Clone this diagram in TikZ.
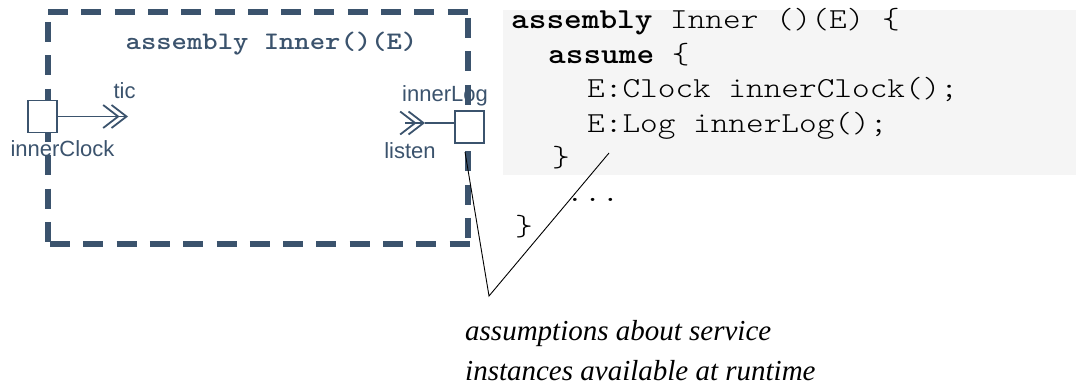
\documentclass[tikz,border=0pt]{standalone}
\usepackage{fontspec}
\setmainfont{Liberation Serif}
\setsansfont{Liberation Sans}
\newfontfamily\codefont{lmmonolt10-regular.otf}[BoldFont=lmmonolt10-bold.otf, FakeStretch=1.16]
\usetikzlibrary{arrows.meta}
\definecolor{slate}{HTML}{3B536D}
\definecolor{codebg}{HTML}{F5F5F5}
\tikzset{
  dashside/.style={draw=slate, line width=6pt, dash pattern=on 20pt off 13.3pt},
  port/.style={draw=slate, fill=white, line width=1.2pt, minimum width=29pt, minimum height=32pt, inner sep=0pt},
  lbl/.style={text=slate, inner sep=0pt, anchor=base, font=\sffamily\fontsize{22}{24}\selectfont},
  codeline/.style={inner sep=0pt, anchor=base west, font=\codefont\fontsize{29}{34}\selectfont},
  note/.style={inner sep=0pt, anchor=base west, font=\itshape\fontsize{29}{40}\selectfont},
  callout/.style={draw=black, line width=0.9pt},
  wire/.style={draw=slate, line width=1.2pt},
  chev/.style={draw=slate, line width=1.2pt, -{Straight Barb[length=15pt,width=23pt,line width=1.8pt,sep=-9pt]Straight Barb[length=15pt,width=23pt,line width=1.8pt]}}
}
\begin{document}
\begin{tikzpicture}[x=1pt,y=-1pt]
\useasboundingbox (0,0) rectangle (1076,385);
% code background
\fill[codebg] (503,10) rectangle (1076,175);
% code text
\node[codeline] (c1) at (511,29) {\textbf{assembly} Inner ()(E) \{};
\node[codeline] (c2) at (548,63.4) {\textbf{assume} \{};
\node[codeline] (c3) at (587,97.8) {E:Clock innerClock();};
\node[codeline] (c4) at (587,132.2) {E:Log innerLog();};
\node[codeline] (c5) at (552,166.6) {\}};
\node[codeline] (c6) at (566,201) {...};
\node[codeline] (c7) at (515,235.4) {\}};
% dashed assembly frame
\draw[dashside] (48,12) -- (472,12);
\draw[dashside] (48,22) -- (48,244);
\draw[dashside] (468,18) -- (468,244);
\draw[dashside] (50,244) -- (472,244);
\node[text=slate, inner sep=0pt, anchor=base, font=\codefont\bfseries\fontsize{25.2}{28}\selectfont] (title) at (271.5,50) {assembly Inner()(E)};
% ports
\node[port] (clk) at (42.5,116.5) {};
\node[port] (log) at (469.5,127) {};
\coordinate (ticend) at (128,116.5);
\coordinate (lsnend) at (425,123);
\coordinate (lsnback) at (405,123);
\draw[chev] (clk.east) -- (ticend);
\draw[wire] ([yshift=4pt]log.west) -- (lsnend);
\draw[chev] (lsnback) -- (lsnend);
\node[lbl] (tic) at (124.5,98.3) {tic};
\node[lbl] (clkname) at (62.5,156.7) {innerClock};
\node[lbl] (logname) at (445,101.7) {innerLog};
\node[lbl] (listen) at (410,158) {listen};
% callout
\coordinate (ca) at (465,152);
\coordinate (cb) at (489,296);
\coordinate (cc) at (609,153);
\draw[callout] (ca) -- (cb) -- (cc);
\node[note] (n1) at (465,340) {assumptions about service};
\node[note] (n2) at (465,380) {instances available at runtime};
\end{tikzpicture}
\end{document}
